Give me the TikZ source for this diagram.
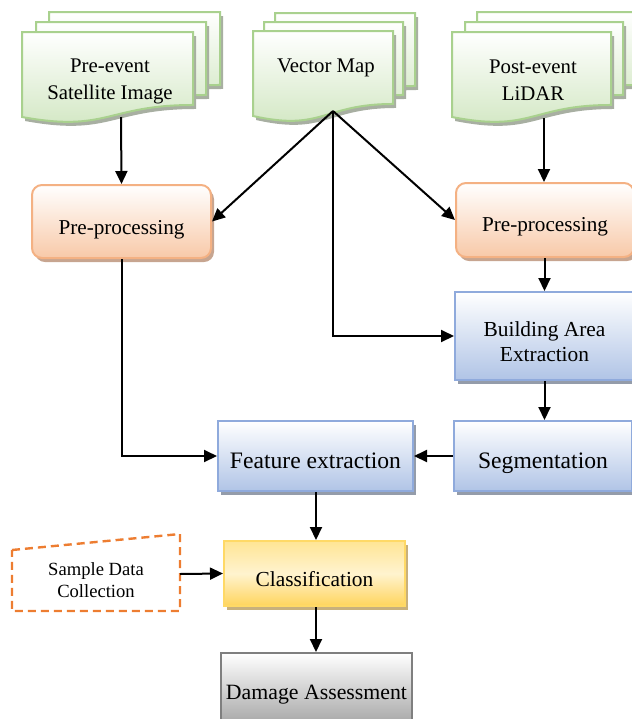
\documentclass[tikz,border=0pt]{standalone}
\usepackage{fontspec}
\setmainfont{Liberation Serif}
\usetikzlibrary{arrows.meta,shadows}
\definecolor{docfill}{HTML}{D0E6C0}
\definecolor{docborder}{HTML}{A9D18E}
\definecolor{docshadowc}{HTML}{A8AFA2}
\definecolor{ppborder}{HTML}{F4B183}
\definecolor{ppfill}{HTML}{F8C9A8}
\definecolor{ppshadow}{HTML}{C7A590}
\definecolor{blueborder}{HTML}{8FAADC}
\definecolor{bluefill}{HTML}{B0C4E6}
\definecolor{blueshadow}{HTML}{949CAA}
\definecolor{clsborder}{HTML}{FFD966}
\definecolor{clstop}{HTML}{FFE594}
\definecolor{clsmid}{HTML}{FFF3CF}
\definecolor{clsbot}{HTML}{FFD45C}
\definecolor{clsshadow}{HTML}{C8B07C}
\definecolor{dmgborder}{HTML}{7F7F7F}
\definecolor{dmgfill}{HTML}{9E9E9E}
\definecolor{sdcorange}{HTML}{ED7D31}
\newcommand\docshape[4]{%
\begin{scope}[shift={(#1,#2)}]
\fill[docshadowc] (3,4) -- ({#3+3},4) -- ({#3+3},{0.802*#4+4}) .. controls ({0.5*#3+3},{0.802*#4+4}) and ({0.5*#3+3},{1.107*#4+4}) .. (3,{0.934*#4+4}) -- cycle;
\draw[docline] (0,0) -- (#3,0) -- (#3,{0.802*#4}) .. controls ({0.5*#3},{0.802*#4}) and ({0.5*#3},{1.107*#4}) .. (0,{0.934*#4}) -- cycle;
\end{scope}}
\newcommand\lowtext[2]{\raisebox{-#1}[\height][\depth]{#2}}
\tikzset{
 docline/.style={draw=docborder, line width=1pt, top color=white, bottom color=docfill},
 doctext/.style={align=center, inner sep=0pt, font=\fontsize{10.4}{13.5}\selectfont},
 procbox/.style={draw=ppborder, line width=1pt, rounded corners=5pt, top color=white, bottom color=ppfill,
   drop shadow={shadow xshift=1.5pt, shadow yshift=-2pt, fill=ppshadow, opacity=1},
   align=center, inner sep=0pt, font=\fontsize{10.6}{13}\selectfont},
 bluebox/.style={draw=blueborder, line width=1pt, top color=white, bottom color=bluefill,
   drop shadow={shadow xshift=1.5pt, shadow yshift=-2pt, fill=blueshadow, opacity=1},
   align=center, inner sep=0pt},
 clsbox/.style={draw=clsborder, line width=1pt, top color=clstop, bottom color=clsbot, middle color=clsmid,
   drop shadow={shadow xshift=1.5pt, shadow yshift=-2pt, fill=clsshadow, opacity=1},
   align=center, inner sep=0pt, font=\fontsize{10.7}{13}\selectfont},
 dmgbox/.style={draw=dmgborder, line width=1pt, top color=white, bottom color=dmgfill,
   align=center, inner sep=0pt, font=\fontsize{10.9}{13}\selectfont},
 arr/.style={line width=1pt, -{Triangle[length=6.5pt,width=6pt]}},
}
\begin{document}
\begin{tikzpicture}[x=0.5pt,y=-0.5pt]
\useasboundingbox (0,0) rectangle (632,719);
% documents
\docshape{49}{12}{171}{91}
\docshape{36}{22}{170}{91}
\docshape{22}{32}{171}{91}
\docshape{275}{13}{140}{91}
\docshape{264}{22}{139}{91}
\docshape{253}{31}{140}{91}
\docshape{477}{12}{160}{91}
\docshape{465}{22}{158}{91}
\docshape{452}{32}{159}{91}
\node[doctext] (pre) at (110,81) {Pre-event\\Satellite Image};
\node[doctext] (vec) at (326,68) {Vector Map};
\node[doctext] (post) at (533,80.5) {Post-event\\LiDAR};
\coordinate (preB) at (121,117);
\coordinate (vecB) at (333,111);
\coordinate (postB) at (544,118);
% boxes
\node[procbox, minimum width=89.5pt, minimum height=36.5pt] (ppL) at (121.5,221.5) {\lowtext{4pt}{Pre-processing}};
\node[procbox, minimum width=89pt, minimum height=37pt] (ppR) at (545,220) {\lowtext{3.5pt}{Pre-processing}};
\node[bluebox, minimum width=89.5pt, minimum height=44pt, font=\fontsize{10.7}{12.5}\selectfont] (bae) at (544.5,336) {\lowtext{4pt}{\begin{tabular}{@{}c@{}}Building Area\\Extraction\end{tabular}}};
\node[bluebox, minimum width=89pt, minimum height=35pt, font=\fontsize{11.8}{14}\selectfont] (seg) at (543,456) {\lowtext{3.5pt}{Segmentation}};
\node[bluebox, minimum width=97.5pt, minimum height=35pt, font=\fontsize{11.8}{14}\selectfont] (fe) at (315.5,456) {\lowtext{2.5pt}{Feature extraction}};
\node[clsbox, minimum width=90.5pt, minimum height=32.5pt] (cls) at (314.5,573.5) {\lowtext{3pt}{Classification}};
\node[dmgbox, minimum width=95.5pt, minimum height=39pt] (dmg) at (316.5,692) {\lowtext{1.5pt}{Damage Assessment}};
% sample data collection
\draw[sdcorange, line width=1.2pt, dash pattern=on 4pt off 2.5pt] (12,550) -- (180,534) -- (180,611) -- (12,611) -- cycle;
\node[align=center, inner sep=0pt, font=\fontsize{9.3}{11}\selectfont] (sdc) at (96,580) {Sample Data\\Collection};
\coordinate (sdcE) at (180,574);
% connectors
\draw[arr] (preB) -- (ppL.north);
\draw[arr] (vecB) -- (ppL.east);
\draw[arr] (vecB) -- (ppR.west);
\draw[arr] (vecB) |- (bae.west);
\draw[arr] (postB) -- (ppR.north -| postB);
\draw[arr] (ppR.south -| bae.north) -- (bae.north);
\draw[arr] (bae.south) -- (seg.north -| bae.south);
\draw[arr] (seg.west) -- (fe.east);
\draw[arr] (ppL.south) |- (fe.west);
\draw[arr] (fe.south -| 316,0) -- (cls.north -| 316,0);
\draw[arr] (sdcE) -- (cls.west);
\draw[arr] (cls.south -| 316,0) -- (dmg.north -| 316,0);
\end{tikzpicture}
\end{document}
